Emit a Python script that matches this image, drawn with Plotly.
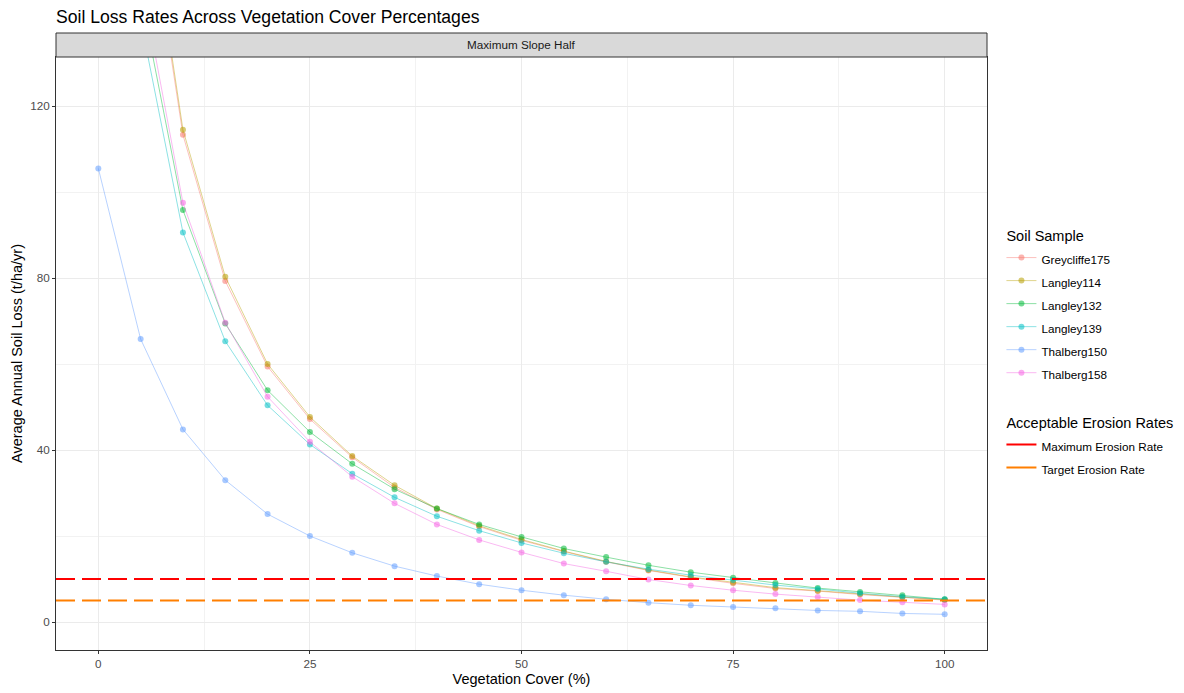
import plotly.graph_objects as go

# ---- data ----
vegetation_cover = [0, 5, 10, 15, 20, 25, 30, 35, 40, 45, 50, 55, 60, 65, 70, 75, 80, 85, 90, 95, 100]

greycliffe175 = [268, 178, 113.3, 79.3, 59.4, 47.2, 38.3, 31.3, 26.2, 22.2, 19.0, 16.4, 14.0, 12.0, 10.4, 9.0, 7.8, 7.2, 6.4, 5.7, 5.1]
langley114 = [272, 180, 114.5, 80.3, 60.0, 47.7, 38.6, 31.8, 26.4, 22.4, 19.2, 16.5, 14.1, 12.1, 10.5, 9.2, 8.0, 7.3, 6.5, 5.8, 5.2]
langley132 = [225, 146, 95.8, 69.4, 53.9, 44.2, 36.8, 30.9, 26.4, 22.7, 19.8, 17.1, 15.1, 13.2, 11.6, 10.3, 9.1, 7.9, 7.0, 6.25, 5.3]
langley139 = [212, 140, 90.6, 65.3, 50.4, 41.3, 34.5, 29.0, 24.6, 21.25, 18.4, 16.0, 14.0, 12.3, 10.9, 9.8, 8.6, 7.7, 6.7, 5.9, 5.3]
thalberg150 = [105.5, 65.8, 44.8, 33.0, 25.1, 20.0, 16.1, 13.0, 10.7, 8.8, 7.4, 6.25, 5.3, 4.5, 3.9, 3.5, 3.2, 2.7, 2.5, 2.0, 1.8]
thalberg158 = [228, 150, 97.5, 69.6, 52.4, 41.9, 33.8, 27.6, 22.7, 19.1, 16.2, 13.6, 11.8, 9.9, 8.5, 7.4, 6.5, 5.8, 5.1, 4.6, 4.1]

sample_names = ["Greycliffe175", "Langley114", "Langley132", "Langley139", "Thalberg150", "Thalberg158"]
sample_values = [greycliffe175, langley114, langley132, langley139, thalberg150, thalberg158]
sample_colors = [(248, 118, 109), (183, 159, 0), (0, 186, 56), (0, 191, 196), (97, 156, 255), (245, 100, 227)]

rate_names = ["Maximum Erosion Rate", "Target Erosion Rate"]
rate_values = [10, 5]
rate_colors = ["#FF0000", "#FF7F00"]

strip_label = "Maximum Slope Half"

FONT = "Liberation Sans, Arial, sans-serif"
LEG_TXT = "<span style='font-size:11.7px'>%s</span>"

fig = go.Figure()

for i, (name, vals, c) in enumerate(zip(sample_names, sample_values, sample_colors)):
    fig.add_trace(go.Scatter(
        x=vegetation_cover, y=vals, name=LEG_TXT % name, mode="lines+markers",
        line=dict(color="rgba(%d,%d,%d,0.5)" % c, width=0.9),
        marker=dict(color="rgba(%d,%d,%d,0.55)" % c, size=6, line=dict(width=0)),
        legendgroup="soil",
        legendgrouptitle=dict(text="Soil Sample", font=dict(size=14.5, color="#000000", family=FONT)) if i == 0 else None,
        cliponaxis=True,
    ))

for i, (name, val, col) in enumerate(zip(rate_names, rate_values, rate_colors)):
    fig.add_hline(y=val, line=dict(color=col, width=2, dash="19px,7px"), layer="above")
    fig.add_trace(go.Scatter(
        x=[None], y=[None], name=LEG_TXT % name, mode="lines",
        line=dict(color=col, width=2),
        legendgroup="rates",
        legendgrouptitle=dict(text="Acceptable Erosion Rates", font=dict(size=14.5, color="#000000", family=FONT)) if i == 0 else None,
    ))

# facet strip
strip_h = 24 / 593
fig.add_shape(type="rect", xref="paper", yref="paper", x0=0, x1=1, y0=1, y1=1 + strip_h,
              fillcolor="#D9D9D9", line=dict(color="#333333", width=1), layer="above")
fig.add_annotation(text=strip_label, xref="paper", yref="paper", x=0.5, y=1 + strip_h / 2,
                   showarrow=False, font=dict(size=11.7, color="#1A1A1A", family=FONT),
                   xanchor="center", yanchor="middle")

axis_common = dict(
    showline=True, mirror=True, linecolor="#333333", linewidth=1,
    showgrid=True, gridcolor="#EBEBEB", gridwidth=1, zeroline=False,
    ticks="outside", ticklen=3, tickcolor="#333333", tickwidth=1,
    tickfont=dict(size=11.7, color="#4D4D4D", family=FONT),
    automargin=False,
)

fig.update_xaxes(
    range=[-5, 105], tickvals=[0, 25, 50, 75, 100],
    minor=dict(dtick=12.5, tick0=0, showgrid=True, gridcolor="#F2F2F2", gridwidth=1, ticks=""),
    title=dict(text="Vegetation Cover (%)", font=dict(size=14.5, color="#000000", family=FONT), standoff=4),
    **axis_common,
)
fig.update_yaxes(
    range=[-6.5, 131.4], tickvals=[0, 40, 80, 120],
    minor=dict(dtick=20, tick0=0, showgrid=True, gridcolor="#F2F2F2", gridwidth=1, ticks=""),
    title=dict(text="Average Annual Soil Loss (t/ha/yr)", font=dict(size=14.5, color="#000000", family=FONT), standoff=4),
    **axis_common,
)

fig.update_layout(
    width=1184, height=693,
    margin=dict(l=56, r=197, t=57, b=43, autoexpand=False),
    paper_bgcolor="white", plot_bgcolor="white",
    font=dict(family=FONT, color="#000000"),
    title=dict(text="Soil Loss Rates Across Vegetation Cover Percentages",
               x=56 / 1184, xanchor="left", y=1 - 17 / 693, yanchor="middle",
               font=dict(size=17.6, color="#000000", family=FONT), automargin=False),
    legend=dict(x=1.0155, xanchor="left", y=0.503, yanchor="middle",
                font=dict(size=15.4, color="#000000", family=FONT),
                tracegroupgap=27, itemwidth=30, bgcolor="rgba(0,0,0,0)"),
    showlegend=True,
)

fig.write_html("out.html", config={"displayModeBar": False},
               post_script="document.body.style.margin='0';document.body.style.overflow='hidden';")
